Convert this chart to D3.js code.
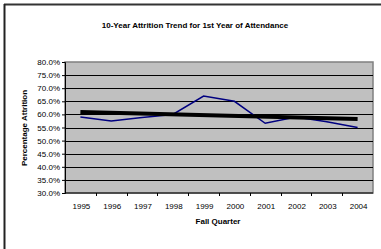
<!DOCTYPE html>
<html>
<head>
<meta charset="utf-8">
<script src="https://cdn.jsdelivr.net/npm/d3@7"></script>
<style>
  body { margin: 0; background: #fff; }
  svg { display: block; font-family: "Liberation Sans", Arial, sans-serif; }
</style>
</head>
<body>
<svg id="chart" width="381" height="249"></svg>
<script>
// data
var years = ["1995","1996","1997","1998","1999","2000","2001","2002","2003","2004"];
var attrition = [59.0, 57.5, 58.8, 60.0, 67.0, 65.0, 56.6, 59.0, 57.2, 55.0];
var trendEnds = [60.9, 58.2];   // linear trendline, first and last year
var yTicks = [30,35,40,45,50,55,60,65,70,75,80];

var svg = d3.select("#chart");

// page frame
svg.append("line").attr("x1", 4).attr("x2", 381).attr("y1", 4.5).attr("y2", 4.5)
  .attr("stroke", "#333").attr("stroke-width", 2);
svg.append("line").attr("x1", 4.5).attr("x2", 4.5).attr("y1", 4).attr("y2", 249)
  .attr("stroke", "#222").attr("stroke-width", 2);

// plot area
var margin = {top: 62, left: 65, right: 373, bottom: 193};

var xScale = d3.scaleBand()
  .domain(years)
  .range([margin.left, margin.right]);

var yScale = d3.scaleLinear()
  .domain([30, 80])
  .range([margin.bottom, margin.top]);

svg.append("rect")
  .attr("x", margin.left).attr("y", margin.top)
  .attr("width", margin.right - margin.left)
  .attr("height", margin.bottom - margin.top)
  .attr("fill", "#c0c0c0")
  .attr("stroke", "#808080").attr("stroke-width", 1.5);

// gridlines
svg.append("g")
  .selectAll("line")
  .data(yTicks.filter(d => d > 30 && d < 80))
  .join("line")
    .attr("x1", margin.left).attr("x2", margin.right)
    .attr("y1", d => Math.round(yScale(d)) + 0.5)
    .attr("y2", d => Math.round(yScale(d)) + 0.5)
    .attr("stroke", "#000").attr("stroke-width", 1);

// y axis
var yAxis = svg.append("g")
  .attr("transform", `translate(${margin.left},0)`)
  .call(d3.axisLeft(yScale).tickValues(yTicks).tickSize(3).tickPadding(2)
    .tickFormat(d => d.toFixed(1) + "%"));
yAxis.select(".domain").attr("stroke", "#000");
yAxis.selectAll("text").style("font-size", "8px").attr("fill", "#000");

// x axis, ticks between categories
var xAxis = svg.append("g")
  .attr("transform", `translate(0,${margin.bottom})`);
xAxis.append("line")
  .attr("x1", margin.left).attr("x2", margin.right)
  .attr("stroke", "#000");
xAxis.selectAll("line.tick")
  .data(years.slice(1))
  .join("line")
    .attr("class", "tick")
    .attr("x1", d => Math.round(xScale(d)) + 0.5)
    .attr("x2", d => Math.round(xScale(d)) + 0.5)
    .attr("y1", 0).attr("y2", 3)
    .attr("stroke", "#000");
xAxis.selectAll("text")
  .data(years)
  .join("text")
    .attr("x", d => xScale(d) + xScale.bandwidth() / 2 + 1)
    .attr("y", 16)
    .attr("text-anchor", "middle")
    .style("font-size", "8px")
    .text(d => d);

// attrition line
var line = d3.line()
  .x((d, i) => xScale(years[i]) + xScale.bandwidth() / 2)
  .y(d => yScale(d));

svg.append("path")
  .datum(attrition)
  .attr("d", line)
  .attr("fill", "none")
  .attr("stroke", "#000080")
  .attr("stroke-width", 1.5);

// trendline
svg.append("line")
  .attr("x1", xScale(years[0]) + xScale.bandwidth() / 2)
  .attr("x2", xScale(years[years.length - 1]) + xScale.bandwidth() / 2)
  .attr("y1", yScale(trendEnds[0]))
  .attr("y2", yScale(trendEnds[1]))
  .attr("stroke", "#000")
  .attr("stroke-width", 4);

// titles
svg.append("text")
  .attr("x", 195).attr("y", 28)
  .attr("text-anchor", "middle")
  .style("font-size", "8px").style("font-weight", "bold")
  .text("10-Year Attrition Trend for 1st Year of Attendance");

svg.append("text")
  .attr("x", 218).attr("y", 224)
  .attr("text-anchor", "middle")
  .style("font-size", "8px").style("font-weight", "bold")
  .text("Fall Quarter");

svg.append("text")
  .attr("transform", "translate(27,128) rotate(-90)")
  .attr("text-anchor", "middle")
  .style("font-size", "8px").style("font-weight", "bold")
  .text("Percentage Attrition");
</script>
</body>
</html>
